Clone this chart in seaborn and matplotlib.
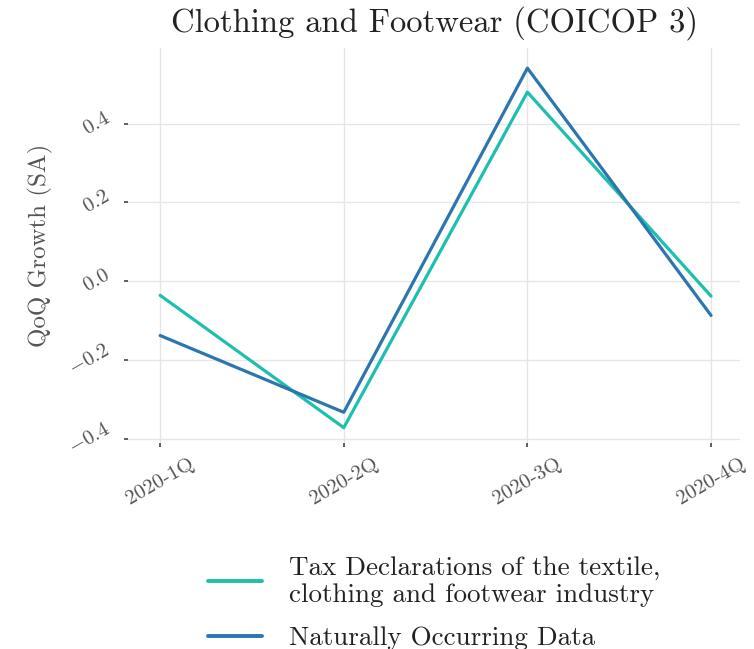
import matplotlib
matplotlib.use("Agg")
import matplotlib.pyplot as plt
import seaborn as sns
import pandas as pd

quarters = ["2020-1Q", "2020-2Q", "2020-3Q", "2020-4Q"]
tax_declarations = [-0.036, -0.372, 0.480, -0.038]
naturally_occurring = [-0.138, -0.333, 0.541, -0.087]

series_names = [
    "Tax Declarations of the textile,\nclothing and footwear industry",
    "Naturally Occurring Data",
]
colors = ["#1dbfae", "#2c76ae"]

df = pd.DataFrame({
    "quarter": quarters * 2,
    "growth": tax_declarations + naturally_occurring,
    "source": [series_names[0]] * 4 + [series_names[1]] * 4,
})

sns.set_theme(style="whitegrid")
plt.rcParams["font.family"] = ["serif"]
plt.rcParams["font.serif"] = ["cmr10"]
plt.rcParams["mathtext.fontset"] = "cm"
plt.rcParams["axes.formatter.use_mathtext"] = True

fig = plt.figure(figsize=(7.54, 6.49), dpi=100)
ax = fig.add_axes([0.170, 0.318, 0.812, 0.608])

sns.lineplot(data=df, x="quarter", y="growth", hue="source",
             palette=colors, linewidth=2.3, ax=ax, sort=False)

ax.set_xlim(-0.174, 3.16)
ax.set_ylim(-0.41, 0.592)
yticks = [-0.4, -0.2, 0.0, 0.2, 0.4]
ax.set_yticks(yticks)
ax.set_yticklabels([f"${v:.1f}$" for v in yticks])
for s in ax.spines.values():
    s.set_visible(False)
ax.grid(True, color="#e6e6e6", linewidth=1.0)
ax.tick_params(axis="both", which="both", bottom=True, left=True,
               length=3, width=1.2, color="#444444",
               labelsize=15, labelcolor="#555555", pad=8)
ax.tick_params(axis="x", pad=6)
plt.setp(ax.get_xticklabels(), rotation=30, ha="center")
plt.setp(ax.get_yticklabels(), rotation=30, ha="right", va="center")

ax.set_xlabel("")
ax.set_ylabel("QoQ Growth (SA)", fontsize=18, color="#555555", labelpad=9)
ax.set_title("Clothing and Footwear (COICOP 3)", fontsize=23.5, color="#222222", pad=12)

handles, labels = ax.get_legend_handles_labels()
ax.legend(handles, labels, loc="upper center", bbox_to_anchor=(0.5, -0.225),
          frameon=False, fontsize=19.5, handlelength=2.0, labelspacing=0.7,
          handletextpad=1.0)
for line in ax.get_legend().get_lines():
    line.set_linewidth(2.8)
for t in ax.get_legend().get_texts():
    t.set_color("#222222")

fig.savefig("out.png", dpi=100)
